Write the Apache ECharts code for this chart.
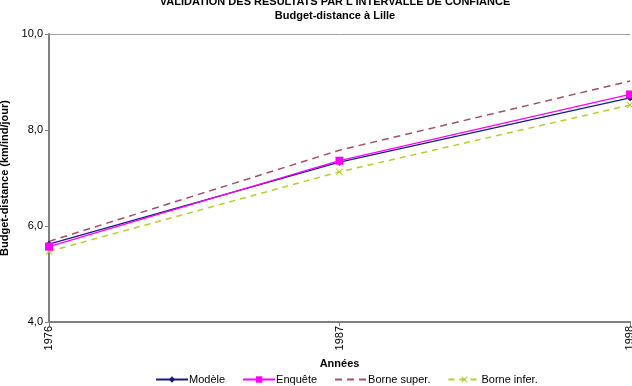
<!DOCTYPE html>
<html>
<head>
<meta charset="utf-8">
<script src="https://cdn.jsdelivr.net/npm/echarts@6/dist/echarts.min.js"></script>
<style>
  html, body { margin: 0; padding: 0; background: #fff; }
  #chart { width: 632px; height: 386px; }
</style>
</head>
<body>
<div id="chart"></div>
<script>
// données
const annees = ['1976', '1987', '1998']
const modele = [5.62, 7.33, 8.67]
const enquete = [5.57, 7.36, 8.74]
const borneSup = [5.68, 7.58, 9.02]
const borneInf = [5.47, 7.13, 8.52]

const crossPath = 'path://M0,1L1,0L5,4L9,0L10,1L6,5L10,9L9,10L5,6L1,10L0,9L4,5Z'
const font = 'Liberation Sans, Arial, sans-serif'

const myChart = echarts.init(document.getElementById('chart'))

const option = {
  animation: false,
  textStyle: { fontFamily: font },
  title: {
    text: "VALIDATION DES RESULTATS PAR L'INTERVALLE DE CONFIANCE\nBudget-distance à Lille",
    left: 330,
    textAlign: 'center',
    top: -10,
    textStyle: {
      fontSize: 11,
      fontWeight: 'bold',
      color: '#000',
      lineHeight: 14,
      fontFamily: font
    }
  },
  legend: {
    bottom: -4,
    left: 150,
    itemWidth: 32,
    itemHeight: 8,
    itemGap: 17,
    textStyle: { fontSize: 11, color: '#000', fontFamily: font, padding: [0, 0, 0, -4] },
    data: [
      'Modèle',
      'Enquête',
      { name: 'Borne super.', itemStyle: { opacity: 0 } },
      'Borne infer.'
    ]
  },
  grid: {
    left: 49,
    right: 2,
    top: 34,
    bottom: 64,
    containLabel: false,
    outerBoundsMode: 'none'
  },
  xAxis: [
    {
      type: 'category',
      boundaryGap: false,
      data: annees,
      name: 'Années',
      nameLocation: 'middle',
      nameGap: 30,
      nameTextStyle: { fontSize: 11, fontWeight: 'bold', color: '#000' },
      axisLine: { lineStyle: { color: '#808080', width: 2 } },
      axisTick: { show: true, length: 4, lineStyle: { color: '#808080' } },
      axisLabel: { rotate: 90, fontSize: 11, color: '#000', margin: 4, hideOverlap: false }
    },
    {
      type: 'category',
      position: 'top',
      boundaryGap: false,
      data: annees,
      axisLine: { lineStyle: { color: '#a0a0a0', width: 1 } },
      axisTick: { show: false },
      axisLabel: { show: false }
    }
  ],
  yAxis: {
    type: 'value',
    min: 4,
    max: 10,
    interval: 2,
    name: 'Budget-distance (km/ind/jour)',
    nameLocation: 'middle',
    nameGap: 39,
    nameTextStyle: { fontSize: 11, fontWeight: 'bold', color: '#000' },
    axisLine: { show: true, lineStyle: { color: '#808080', width: 2 } },
    axisTick: { show: true, length: 4, lineStyle: { color: '#808080' } },
    splitLine: { show: false },
    axisLabel: {
      fontSize: 11,
      color: '#000',
      margin: 6,
      formatter: (v) => v.toFixed(1).replace('.', ',')
    }
  },
  series: [
    {
      name: 'Borne super.',
      type: 'line',
      data: borneSup,
      symbol: 'none',
      itemStyle: { color: '#a0506e' },
      lineStyle: { width: 1.5, color: '#a0506e', type: [7, 5] }
    },
    {
      name: 'Borne infer.',
      type: 'line',
      data: borneInf,
      symbol: crossPath,
      symbolSize: 7,
      itemStyle: { color: '#b8cc30' },
      lineStyle: { width: 1.5, color: '#b8cc30', type: [6, 5] }
    },
    {
      name: 'Modèle',
      type: 'line',
      data: modele,
      symbol: 'diamond',
      symbolSize: 7,
      itemStyle: { color: '#1a1a80' },
      lineStyle: { width: 1.3, color: '#1a1a80' }
    },
    {
      name: 'Enquête',
      type: 'line',
      data: enquete,
      symbol: 'rect',
      symbolSize: 8,
      itemStyle: { color: '#ff00ff' },
      lineStyle: { width: 1.3, color: '#ff00ff' }
    }
  ]
}

myChart.setOption(option)
</script>
</body>
</html>
